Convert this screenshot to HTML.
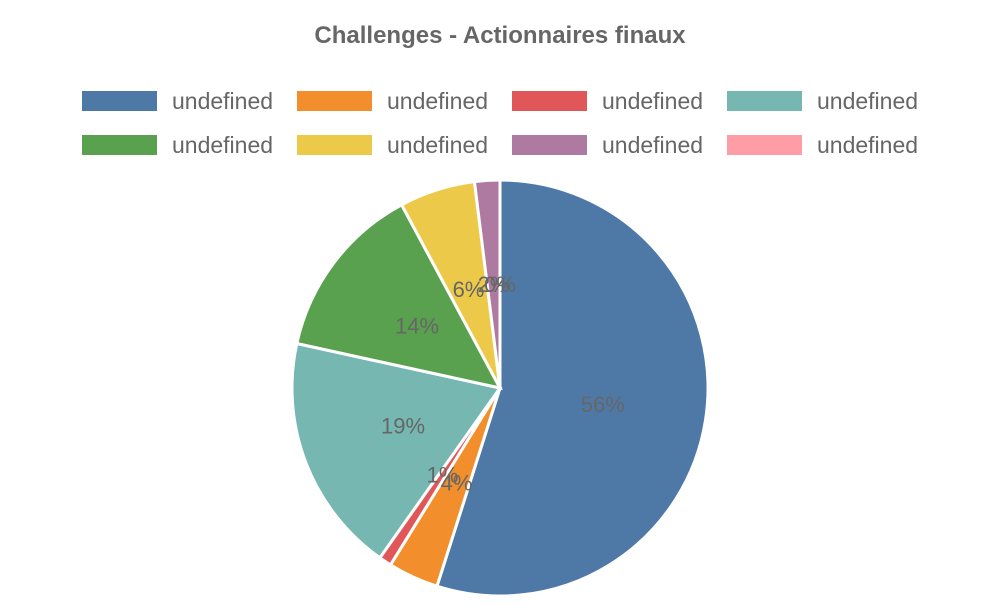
<!DOCTYPE html>
<html><head><meta charset="utf-8"><style>
body{margin:0;background:#fff;width:1000px;height:600px;overflow:hidden;font-family:"Liberation Sans",sans-serif}
</style></head><body>
<svg width="1000" height="600" id="chart">
<text x="500" y="43" text-anchor="middle" font-size="24" font-weight="bold" fill="#666">Challenges - Actionnaires finaux</text>
<g id="legend"></g><g id="slices"></g><g id="labels"></g>
</svg>
<script>
const categories=["undefined","undefined","undefined","undefined","undefined","undefined","undefined","undefined"];
const values=[56,4,1,19,14,6,2,0];
const valueLabels=["56%","4%","1%","19%","14%","6%","2%","0%"];
const colors=["#4e79a7","#f28e2c","#e15759","#76b7b2","#59a14f","#edc949","#af7aa1","#ff9da7"];
const NS="http://www.w3.org/2000/svg";
const cx=500,cy=388,r=208;
const total=values.reduce((a,b)=>a+b,0);
const lg=document.getElementById('legend');
categories.forEach((c,i)=>{
  const col=i%4,row=Math.floor(i/4);
  const x=82+col*215,y=91+row*44;
  const g=document.createElementNS(NS,'g');
  
  
  const rc=document.createElementNS(NS,'rect');
  rc.setAttribute('x',x);rc.setAttribute('y',y);rc.setAttribute('width',75);rc.setAttribute('height',20);rc.setAttribute('fill',colors[i]);
  
  
  const t=document.createElementNS(NS,'text');
  t.setAttribute('x',x+90);t.setAttribute('y',y+18);t.setAttribute('font-size',23);t.setAttribute('fill','#666');t.textContent=c;
  
  
  g.appendChild(rc);g.appendChild(t);lg.appendChild(g);
});
const sg=document.getElementById('slices'),lb=document.getElementById('labels');
let a0=0;
values.forEach((v,i)=>{
  const a1=a0+v/total*2*Math.PI;
  const p=(a)=>[cx+r*Math.sin(a),cy-r*Math.cos(a)];
  const [x0,y0]=p(a0),[x1,y1]=p(a1);
  const path=document.createElementNS(NS,'path');
  const large=(a1-a0)>Math.PI?1:0;
  path.setAttribute('d',`M${cx},${cy}L${x0},${y0}A${r},${r} 0 ${large} 1 ${x1},${y1}Z`);
  path.setAttribute('fill',colors[i]);path.setAttribute('stroke','#fff');path.setAttribute('stroke-width',3);
  
  
  sg.appendChild(path);
  const am=(a0+a1)/2;
  const t=document.createElementNS(NS,'text');
  t.setAttribute('x',cx+r*0.5*Math.sin(am));t.setAttribute('y',cy-r*0.5*Math.cos(am)+8);
  t.setAttribute('text-anchor','middle');t.setAttribute('font-size',22);t.setAttribute('fill','#666');
  t.textContent=valueLabels[i];
  
  
  lb.appendChild(t);
  a0=a1;
});
</script>
</body></html>
